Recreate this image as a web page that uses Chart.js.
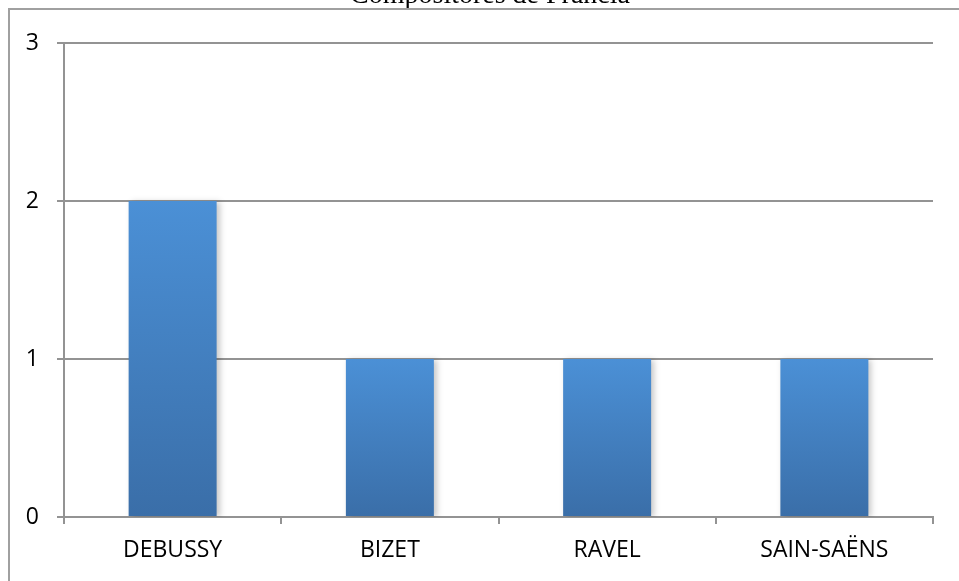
<!DOCTYPE html>
<html lang="es">
<head>
  <meta charset="UTF-8" />
  <title>Compositores de Francia</title>
  <script src="https://cdn.jsdelivr.net/npm/chart.js"></script>
  <style>
    html, body {
      margin: 0;
      padding: 0;
      background: #ffffff;
    }
    body {
      width: 959px;
      height: 581px;
      overflow: hidden;
    }
    #chart {
      display: block;
    }
  </style>
</head>
<body>
  <canvas id="chart" width="959" height="581"></canvas>

  <script>
    // data
    const composers = ['DEBUSSY', 'BIZET', 'RAVEL', 'SAIN-SAËNS'];
    const counts = [2, 1, 1, 1];
    const yTicks = [0, 1, 2, 3];
    const chartTitle = 'Compositores de Francia';

    const gridGray = '#939393';
    const labelFont = { family: '"Open Sans", sans-serif', size: 23 };

    // each bar gets its own light-top / dark-bottom gradient
    function barGradient(context) {
      const chart = context.chart;
      const y = chart.scales.y;
      if (!chart.chartArea || !y) return '#4a8ed4';
      const top = y.getPixelForValue(context.raw);
      const bottom = y.getPixelForValue(0);
      const g = chart.ctx.createLinearGradient(0, top, 0, bottom);
      g.addColorStop(0, '#4b90d6');
      g.addColorStop(1, '#3a6ea8');
      return g;
    }

    // outer chart frame (top and left edges, the rest is cut off) and the
    // title above it, mostly cut off by the top of the picture
    const frame = {
      id: 'frame',
      afterDraw(chart) {
        const c = chart.ctx;
        c.save();
        c.fillStyle = '#000';
        c.font = '28px "Liberation Serif", serif';
        c.textAlign = 'center';
        c.textBaseline = 'alphabetic';
        c.fillText(chartTitle, 490, 3);
        c.fillStyle = '#a0a0a0';
        c.fillRect(8, 8, chart.width - 8, 2);
        c.fillRect(8, 8, 2, chart.height - 8);
        c.restore();
      }
    };

    const barShadow = {
      id: 'barShadow',
      beforeDatasetsDraw(chart) {
        const c = chart.ctx;
        c.save();
        c.shadowColor = 'rgba(0, 0, 0, 0.22)';
        c.shadowBlur = 6;
        c.shadowOffsetX = 3;
        c.shadowOffsetY = 1;
      },
      afterDatasetsDraw(chart) {
        chart.ctx.restore();
      }
    };

    new Chart(document.getElementById('chart'), {
      type: 'bar',
      data: {
        labels: composers,
        datasets: [{
          data: counts,
          backgroundColor: barGradient,
          borderWidth: 0,
          categoryPercentage: 1,
          barPercentage: 0.405
        }]
      },
      options: {
        responsive: false,
        animation: false,
        layout: { padding: { top: 43, right: 26, left: 0, bottom: 0 } },
        plugins: {
          legend: { display: false },
          tooltip: { enabled: false }
        },
        scales: {
          x: {
            offset: true,
            afterFit: (s) => { s.height = 64; },
            grid: {
              offset: true,
              drawOnChartArea: false,
              drawTicks: true,
              tickLength: 7,
              color: gridGray,
              lineWidth: 2
            },
            border: { color: gridGray, width: 2 },
            ticks: { color: '#000', font: labelFont, padding: 13, maxRotation: 0 }
          },
          y: {
            min: 0,
            max: 3,
            afterFit: (s) => { s.width = 64; },
            afterBuildTicks: (s) => { s.ticks = yTicks.map(v => ({ value: v })); },
            grid: {
              color: gridGray,
              lineWidth: 2,
              tickLength: 7
            },
            border: { color: gridGray, width: 2 },
            ticks: { color: '#000', font: labelFont, padding: 18 }
          }
        }
      },
      plugins: [frame, barShadow]
    });
  </script>
</body>
</html>
